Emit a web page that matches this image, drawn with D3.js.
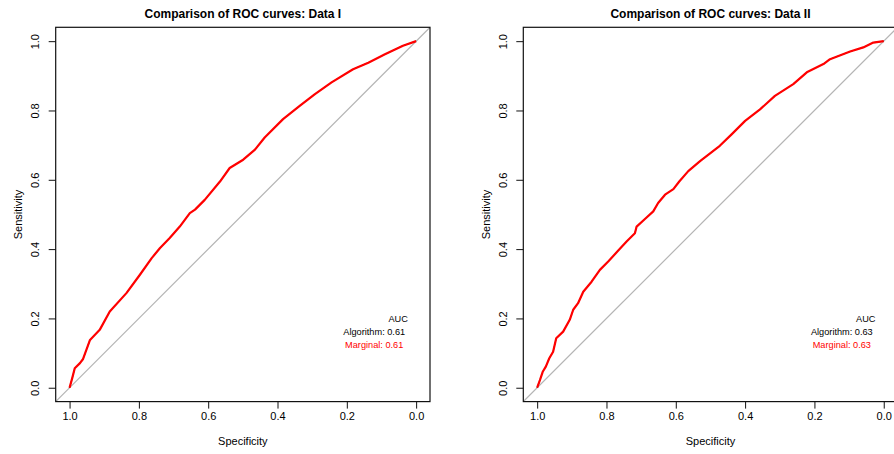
<!DOCTYPE html>
<html lang="en">
<head>
<meta charset="utf-8">
<title>Comparison of ROC curves</title>
<script src="https://d3js.org/d3.v7.min.js"></script>
<style>
  body { margin: 0; background: #fff; }
  svg { display: block; font-family: "Liberation Sans", Arial, Helvetica, sans-serif; }
  .title { font-weight: bold; font-size: 12px; }
  .tick-label, .axis-title { font-size: 11px; }
  .legend { font-size: 9.2px; }
</style>
</head>
<body>
<svg width="894" height="454"></svg>
<script>
// values
var titles = ["Comparison of ROC curves: Data I", "Comparison of ROC curves: Data II"];
var xTicks = [1.0, 0.8, 0.6, 0.4, 0.2, 0.0];
var yTicks = [0.0, 0.2, 0.4, 0.6, 0.8, 1.0];

var spec1 = [1.000, 0.9925, 0.985, 0.970, 0.961, 0.941, 0.913, 0.884, 0.836, 0.797, 0.763, 0.739,
             0.711, 0.682, 0.653, 0.638, 0.610, 0.566, 0.538, 0.499, 0.465, 0.437, 0.384, 0.336,
             0.292, 0.244, 0.182, 0.138, 0.090, 0.038, 0.000];
var sens1 = [0.000, 0.027, 0.056, 0.071, 0.083, 0.138, 0.167, 0.220, 0.273, 0.326, 0.374, 0.403,
             0.432, 0.465, 0.504, 0.514, 0.542, 0.595, 0.634, 0.658, 0.687, 0.722, 0.775, 0.813,
             0.847, 0.881, 0.919, 0.938, 0.962, 0.987, 1.000];

var spec2 = [1.000, 0.992, 0.984, 0.975, 0.965, 0.954, 0.945, 0.925, 0.906, 0.896, 0.882, 0.867,
             0.843, 0.819, 0.795, 0.766, 0.742, 0.718, 0.713, 0.689, 0.665, 0.651, 0.631, 0.607,
             0.590, 0.564, 0.530, 0.473, 0.439, 0.400, 0.357, 0.314, 0.261, 0.222, 0.174, 0.155,
             0.097, 0.059, 0.030, 0.000];
var sens2 = [0.000, 0.022, 0.046, 0.061, 0.085, 0.104, 0.143, 0.162, 0.196, 0.225, 0.244, 0.277,
             0.306, 0.340, 0.364, 0.396, 0.422, 0.446, 0.465, 0.487, 0.509, 0.533, 0.557, 0.573,
             0.595, 0.625, 0.654, 0.698, 0.731, 0.770, 0.803, 0.842, 0.876, 0.910, 0.934, 0.948,
             0.970, 0.982, 0.996, 1.000];

var aucAlgorithm = ["0.61", "0.63"];
var aucMarginal = ["0.61", "0.63"];

var panels = [
  {spec: spec1, sens: sens1, left: 55.7},
  {spec: spec2, sens: sens2, left: 523.3}
];

var svg = d3.select("svg");
var plotTop = 27.3, size = 374.3;

panels.forEach(function(p, i) {
  var x = d3.scaleLinear().domain([1.04, -0.04]).range([p.left, p.left + size]);
  var y = d3.scaleLinear().domain([-0.04, 1.04]).range([plotTop + size, plotTop]);
  var g = svg.append("g");

  var clipId = "clip" + i;
  g.append("clipPath").attr("id", clipId)
    .append("rect").attr("x", p.left).attr("y", plotTop).attr("width", size).attr("height", size);

  // chance diagonal
  g.append("line")
      .attr("clip-path", "url(#" + clipId + ")")
      .attr("x1", x(1.04)).attr("y1", y(-0.04))
      .attr("x2", x(-0.04)).attr("y2", y(1.04))
      .attr("stroke", "#b4b4b4").attr("stroke-width", 1.2);

  var pts = p.spec.map(function(s, k) { return [s, p.sens[k]]; });
  var line = d3.line().x(function(d) { return x(d[0]); }).y(function(d) { return y(d[1]); });

  // algorithm (black) lies hidden under the marginal (red) curve
  g.append("path").datum(pts).attr("d", line)
      .attr("fill", "none").attr("stroke", "#000").attr("stroke-width", 1);
  g.append("path").datum(pts).attr("d", line)
      .attr("fill", "none").attr("stroke", "#ff0000").attr("stroke-width", 2.2)
      .attr("stroke-linejoin", "round");

  // box
  g.append("rect")
      .attr("x", p.left).attr("y", plotTop).attr("width", size).attr("height", size)
      .attr("fill", "none").attr("stroke", "#111").attr("stroke-width", 1.2);

  // x axis
  var xa = g.append("g")
      .attr("transform", "translate(0," + (plotTop + size) + ")")
      .call(d3.axisBottom(x).tickValues(xTicks).tickSize(7).tickPadding(4)
            .tickFormat(d3.format(".1f")));
  xa.select(".domain").remove();
  xa.selectAll("line").attr("stroke", "#111");
  xa.selectAll("text").attr("class", "tick-label").attr("fill", "#000");
  xa.attr("font-family", null).attr("font-size", null);

  // y axis
  var ya = g.append("g")
      .attr("transform", "translate(" + p.left + ",0)")
      .call(d3.axisLeft(y).tickValues(yTicks).tickSize(7).tickFormat(d3.format(".1f")));
  ya.select(".domain").remove();
  ya.selectAll("line").attr("stroke", "#111");
  ya.attr("font-family", null).attr("font-size", null).attr("text-anchor", null);
  ya.selectAll("text")
      .attr("class", "tick-label").attr("fill", "#000")
      .attr("x", null).attr("dy", null)
      .attr("text-anchor", "middle")
      .attr("transform", "translate(-16.3,0) rotate(-90)");

  g.append("text").attr("class", "title")
      .attr("x", p.left + size / 2).attr("y", 17.5)
      .attr("text-anchor", "middle").text(titles[i]);

  g.append("text").attr("class", "axis-title")
      .attr("x", p.left + size / 2).attr("y", 445)
      .attr("text-anchor", "middle").text("Specificity");

  g.append("text").attr("class", "axis-title")
      .attr("transform", "translate(" + (p.left - 33.7) + "," + (plotTop + size / 2) + ") rotate(-90)")
      .attr("text-anchor", "middle").text("Sensitivity");

  // legend
  var lx = x(0.0) - 41.9;
  g.append("text").attr("class", "legend")
      .attr("x", x(0.0) - 8.3).attr("y", 322).attr("text-anchor", "end").text("AUC");
  g.append("text").attr("class", "legend")
      .attr("x", lx).attr("y", 335).attr("text-anchor", "middle")
      .text("Algorithm: " + aucAlgorithm[i]);
  g.append("text").attr("class", "legend").attr("fill", "#ff0000")
      .attr("x", lx).attr("y", 348).attr("text-anchor", "middle")
      .text("Marginal: " + aucMarginal[i]);
});
</script>
</body>
</html>
